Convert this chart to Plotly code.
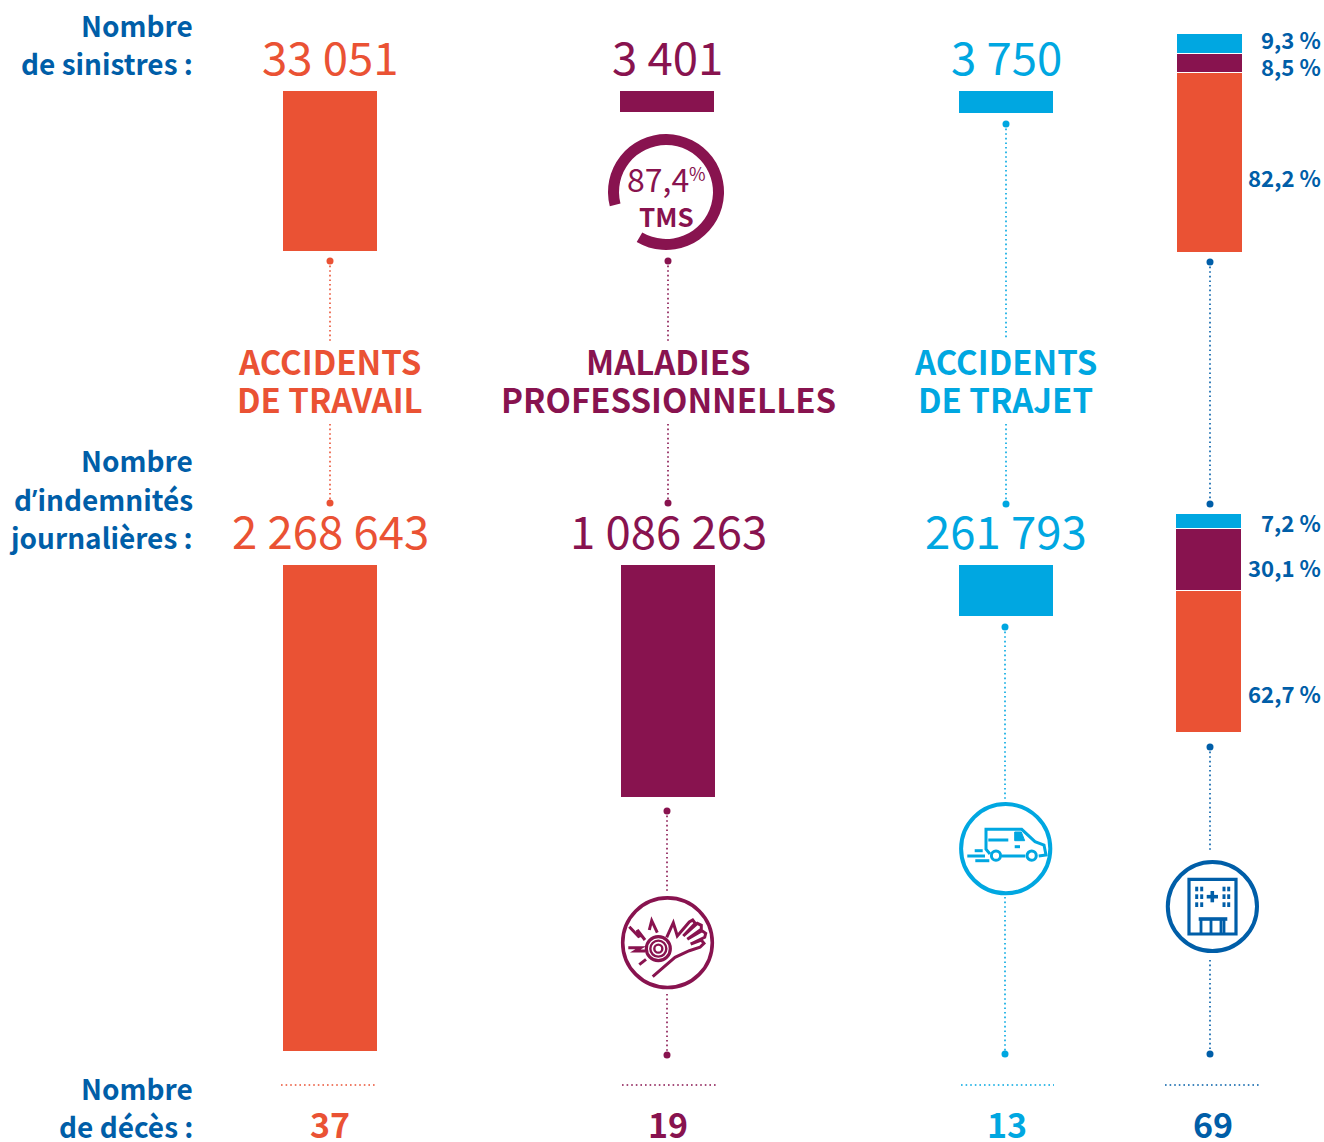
import plotly.graph_objects as go

# ---- data ----
categories = ["ACCIDENTS\nDE TRAVAIL", "MALADIES\nPROFESSIONNELLES", "ACCIDENTS\nDE TRAJET"]
sinistres_labels = ["33 051", "3 401", "3 750"]
indemnites_labels = ["2 268 643", "1 086 263", "261 793"]
deces_labels = ["37", "19", "13", "69"]
# bar lengths as drawn in the picture (short bars are drawn a little longer than true scale)
sinistres_drawn = [33051, 4340, 4545]
indemnites_drawn = [2268643, 1084000, 238000]
stack_names = ["Accidents de travail", "Maladies professionnelles", "Accidents de trajet"]
sinistres_share = [82.2, 8.5, 9.3]
indemnites_share = [62.7, 30.1, 7.2]
# segment lengths as drawn in the lower stacked bar
indemnites_share_drawn = [64.7, 28.4, 6.9]
tms_share = [87.4, 12.6]

# ---- layout and style ----
W, H = 1324, 1142
ORANGE, PURPLE, CYAN, BLUE = "#EA5234", "#88134F", "#00A7E1", "#005EA8"
COLS = [ORANGE, PURPLE, CYAN]
FONT = "Noto Sans CJK SC"
top_x = [330, 667, 1006]
low_x = [330, 668, 1006]
BAR_W = 94
STACK_W = 65.5


def dom(top, bottom):
    return [1 - bottom / H, 1 - top / H]


fig = go.Figure()

for i in range(3):
    fig.add_trace(go.Bar(x=[top_x[i]], y=[sinistres_drawn[i]], width=BAR_W, yaxis="y2",
                         marker=dict(color=COLS[i], line=dict(width=0)), hoverinfo="skip"))
    fig.add_trace(go.Bar(x=[low_x[i]], y=[indemnites_drawn[i]], width=BAR_W, yaxis="y3",
                         marker=dict(color=COLS[i], line=dict(width=0)), hoverinfo="skip"))
for i in range(3):
    fig.add_trace(go.Bar(x=[1210], y=[sinistres_share[i]], width=STACK_W, yaxis="y4", name=stack_names[i],
                         marker=dict(color=COLS[i], line=dict(color="white", width=1)), hoverinfo="skip"))
    fig.add_trace(go.Bar(x=[1209.2], y=[indemnites_share_drawn[i]], width=STACK_W, yaxis="y5", name=stack_names[i],
                         marker=dict(color=COLS[i], line=dict(color="white", width=1)), hoverinfo="skip"))

# TMS ring
R = 58
fig.add_trace(go.Pie(values=tms_share, hole=0.81, rotation=255.7, direction="clockwise", sort=False,
                     marker=dict(colors=[PURPLE, "rgba(0,0,0,0)"], line=dict(width=0)),
                     textinfo="none", hoverinfo="skip", showlegend=False,
                     domain=dict(x=[(666 - R) / W, (666 + R) / W], y=[1 - (192 + R) / H, 1 - (192 - R) / H])))

# dotted connectors: (x0, y0, dot0, x1, y1, dot1, colour)
connectors = [
    (330, 261, 1, 330, 341, 0, ORANGE), (330, 424, 0, 330, 503, 1, ORANGE),
    (668, 261, 1, 668, 341, 0, PURPLE), (668, 424, 0, 668, 503, 1, PURPLE),
    (667, 811, 1, 667, 893, 0, PURPLE), (667, 994, 0, 667, 1055, 1, PURPLE),
    (1006, 124, 1, 1006, 339, 0, CYAN), (1006, 424, 0, 1006, 504, 1, CYAN),
    (1005, 627, 1, 1005, 800, 0, CYAN), (1005, 897, 0, 1005, 1054, 1, CYAN),
    (1210, 262, 1, 1210, 504, 1, BLUE), (1210, 747, 1, 1210, 851, 0, BLUE),
    (1210, 960, 0, 1210, 1054, 1, BLUE),
]
for x0, y0, d0, x1, y1, d1, c in connectors:
    fig.add_trace(go.Scatter(x=[x0, x1], y=[y0, y1], mode="lines+markers", hoverinfo="skip",
                             line=dict(color=c, width=1.6, dash="1.6px,3px"),
                             marker=dict(color=c, size=[7 * d0, 7 * d1], opacity=1, line=dict(width=0))))
rules = [(281, 377, ORANGE), (622, 716, PURPLE), (961, 1054, CYAN), (1165, 1259, BLUE)]
for x0, x1, c in rules:
    fig.add_trace(go.Scatter(x=[x0, x1], y=[1085, 1085], mode="lines", hoverinfo="skip",
                             line=dict(color=c, width=1.6, dash="1.6px,3px")))

# ---- text ----
ann = []


def text(s, x, y, size, color, weight=400, anchor="center"):
    ann.append(dict(text=s, x=x, y=y, xref="x", yref="y", showarrow=False, xanchor=anchor, yanchor="middle",
                    font=dict(family=FONT, size=size, color=color, weight=weight)))


APOS = '<span style="font-family:Open Sans">’</span>'
for s, y in [("Nombre", 25), ("de sinistres :", 63), ("Nombre", 460), (f"d{APOS}indemnités", 499),
             ("journalières :", 537), ("Nombre", 1088), ("de décès :", 1126)]:
    text(s, 195, y, 28, BLUE, 600, "right")

for i in range(3):
    text(sinistres_labels[i], top_x[i], 55, 45.5, COLS[i])
    text(indemnites_labels[i], low_x[i], 529, 45.5, COLS[i])
    a, b = categories[i].split("\n")
    nudge = -1 if i != 1 else 0
    text(a, low_x[i] + nudge, 361, 33, COLS[i], 600)
    text(b, low_x[i] + nudge * (i == 2), 399, 33, COLS[i], 600)
for s, x, c in zip(deces_labels, [330, 668, 1007, 1213], COLS + [BLUE]):
    text(s, x, 1123, 34, c, 700)

for v, y in zip(sinistres_share, [177, 66, 39]):
    text(f"{v:.1f} %".replace(".", ","), 1323, y, 22.2, BLUE, 600, "right")
for v, y in zip(indemnites_share, [693, 567, 522]):
    text(f"{v:.1f} %".replace(".", ","), 1323, y, 22.2, BLUE, 600, "right")

text("87,4", 657.5, 178, 32, PURPLE)
text("%", 697, 173, 18, PURPLE)
text("TMS", 666, 215, 26, PURPLE, 600)

# ---- icons (decorative outlines) ----
shapes = []


def circle(cx, cy, r, c, w):
    shapes.append(dict(type="circle", xref="x", yref="y", x0=cx - r, x1=cx + r, y0=cy - r, y1=cy + r,
                       line=dict(color=c, width=w), fillcolor="rgba(0,0,0,0)"))


def poly(pts, c, w, ox, oy, close=False, fill=None):
    d = "M" + " L".join(f"{ox + a / 3:.1f},{oy + b / 3:.1f}" for a, b in pts) + (" Z" if close else "")
    shapes.append(dict(type="path", xref="x", yref="y", path=d, line=dict(color=c, width=w),
                       fillcolor=fill or "rgba(0,0,0,0)"))


# hand
ox, oy, c = 600, 880, PURPLE
circle(667.5, 942.7, 44.8, c, 3.6)
for r, w in [(36, 3.2), (24, 2.4), (12, 2.4)]:
    circle(ox + 175 / 3, oy + 206 / 3, r / 3, c, w)
for pts in [
    [(88, 140), (118, 172), (112, 150), (135, 180)],
    [(148, 150), (155, 122), (172, 158)],
    [(85, 203), (122, 203), (106, 213), (136, 213)],
    [(118, 254), (138, 238)],
    [(200, 172), (220, 128), (232, 168), (268, 126), (278, 120), (286, 130), (250, 168), (292, 130), (304, 136),
     (304, 148), (262, 178), (306, 152), (317, 160), (314, 172), (272, 192), (304, 180), (312, 190), (300, 202),
     (268, 212), (225, 232), (158, 290)],
]:
    poly(pts, c, 3, ox, oy)

# van
ox, oy, c = 940, 790, CYAN
circle(1005.7, 848.7, 44.6, c, 4)
poly([(150, 192), (138, 178), (138, 118), (245, 118), (285, 155), (312, 165), (318, 195), (296, 198)], c, 3, ox, oy)
poly([(186, 198), (256, 198)], c, 3, ox, oy)
poly([(145, 150), (205, 150)], c, 3, ox, oy)
poly([(224, 170), (240, 170)], c, 3, ox, oy)
poly([(224, 126), (244, 126), (254, 152), (224, 152)], c, 1, ox, oy, True, c)
poly([(104, 182), (128, 182)], c, 3, ox, oy)
poly([(82, 198), (135, 198)], c, 3, ox, oy)
poly([(106, 212), (148, 212)], c, 3, ox, oy)
circle(ox + 168 / 3, oy + 197 / 3, 4.6, c, 3)
circle(ox + 275 / 3, oy + 197 / 3, 4.6, c, 3)

# hospital
ox, oy, c = 1150, 850, BLUE
circle(1212.4, 906.5, 44.6, c, 4)
poly([(117, 88), (258, 88), (258, 252), (117, 252)], c, 3.2, ox, oy, True)
poly([(170, 140), (204, 140)], c, 3.6, ox, oy)
poly([(187, 123), (187, 157)], c, 3.6, ox, oy)
for a in (140, 155, 222, 236):
    for b in (117, 140, 164):
        poly([(a, b - 7), (a, b + 7)], c, 3, ox, oy)
poly([(146, 207), (232, 207)], c, 3.6, ox, oy)
for a in (153, 183, 213, 222):
    poly([(a, 207), (a, 250)], c, 2.8, ox, oy)

hidden = dict(visible=False, fixedrange=True)
fig.update_layout(
    width=W, height=H, margin=dict(l=0, r=0, t=0, b=0, autoexpand=False), paper_bgcolor="white", plot_bgcolor="rgba(0,0,0,0)",
    showlegend=False, barmode="stack", bargap=0, annotations=ann, shapes=shapes,
    xaxis=dict(range=[0, W], domain=[0, 1], **hidden),
    yaxis=dict(range=[H, 0], domain=[0, 1], **hidden),
    yaxis2=dict(range=[sinistres_drawn[0], 0], domain=dom(91, 251), **hidden),
    yaxis3=dict(range=[indemnites_drawn[0], 0], domain=dom(565, 1051), **hidden),
    yaxis4=dict(range=[0, 100], domain=dom(34, 253), **hidden),
    yaxis5=dict(range=[0, 100], domain=dom(514, 733), **hidden),
)
fig.write_html("out.html", config=dict(displayModeBar=False),
               post_script="document.body.style.margin='0';document.body.style.overflow='hidden';")
